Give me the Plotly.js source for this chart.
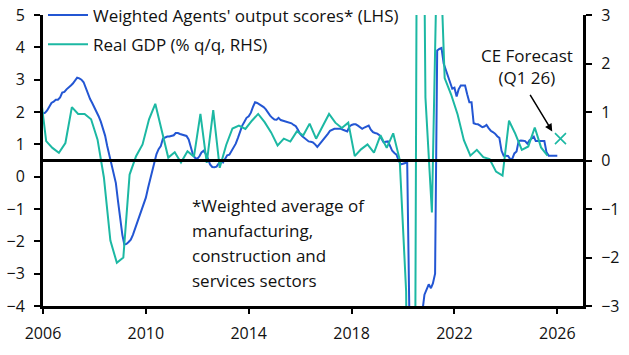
<!DOCTYPE html>
<html>
<head>
<meta charset="utf-8">
<script src="https://cdn.plot.ly/plotly-3.0.1.min.js"></script>
<style>html,body{margin:0;padding:0;background:#fff;}#chart{width:629px;height:355px;}</style>
</head>
<body>
<div id="chart"></div>
<script>
// Weighted Agents' output scores (LHS), monthly from Jan 2006
const agentsStart = [2006, 1];
const agentsValues = [
  1.95,1.98,2.05,2.17,2.28,2.32,2.38,2.38,2.45,2.6,2.62,2.7,
  2.75,2.82,2.88,2.98,3.06,3.04,3.0,2.92,2.75,2.55,2.4,2.28,
  2.15,2.0,1.87,1.7,1.5,1.27,0.95,0.65,0.4,0.1,-0.2,-0.75,
  -1.3,-1.8,-2.1,-2.08,-2.02,-1.95,-1.8,-1.6,-1.4,-1.2,-1.0,-0.85,
  -0.65,-0.35,-0.1,0.15,0.45,0.7,0.85,0.95,1.18,1.22,1.24,1.24,
  1.25,1.28,1.35,1.35,1.32,1.3,1.28,1.26,1.15,0.9,0.68,0.58,
  0.55,0.63,0.75,0.8,0.7,0.55,0.38,0.3,0.29,0.31,0.42,0.5,
  0.44,0.58,0.66,0.68,0.78,0.9,1.02,1.2,1.42,1.58,1.7,1.82,
  1.87,1.98,2.15,2.3,2.28,2.24,2.2,2.15,2.08,1.98,1.89,1.82,
  1.77,1.76,1.82,1.75,1.73,1.71,1.7,1.67,1.65,1.6,1.56,1.45,
  1.32,1.25,1.2,1.12,1.09,1.08,1.06,1.0,0.92,1.0,1.08,1.15,
  1.25,1.33,1.42,1.45,1.48,1.48,1.48,1.48,1.45,1.42,1.4,1.55,
  1.6,1.62,1.62,1.58,1.52,1.48,1.52,1.56,1.58,1.45,1.38,1.35,
  1.33,1.28,1.15,1.06,1.08,1.09,0.95,0.8,0.73,0.68,0.5,0.38,
  0.4,0.42,0.44,-4.3,-5.0,-5.0,-5.0,-4.9,-4.6,-4.2,-3.65,-3.5,
  -3.33,-3.45,-3.3,-3.0,3.9,3.95,3.98,3.5,3.3,3.05,2.85,2.72,
  2.75,2.48,2.7,2.82,2.82,2.82,2.55,2.3,2.3,1.65,1.63,1.62,
  1.58,1.53,1.55,1.6,1.5,1.42,1.38,1.33,1.25,1.2,0.8,0.65,
  0.65,0.64,0.55,0.55,0.72,0.78,1.1,1.12,1.11,1.1,1.02,1.12,
  1.18,1.24,1.1,1.1,1.1,1.1,1.1,0.75,0.65,0.65,0.65,0.65,
  0.65
];

// Real GDP (% q/q, RHS), quarterly from Q4 2005
const gdpStart = [2005, 4];
const gdpValues = [
  1.5,
  0.40,0.26,0.16,0.36,
  1.10,0.96,0.96,0.85,
  0.43,-0.35,-1.65,-2.11,
  -2.0,-0.29,0.09,0.33,
  0.85,1.17,0.62,0.06,
  0.17,-0.04,0.19,0.08,
  0.96,-0.05,1.04,-0.15,
  0.32,0.66,0.72,0.65,
  0.82,0.96,0.79,0.58,
  0.31,0.45,0.39,0.60,
  0.52,0.76,0.45,0.70,
  0.96,0.78,0.67,0.78,
  0.09,0.23,0.33,0.16,
  0.52,0.26,0.56,0.02,
  -2.7,-19.4,16.9,1.3,
  -1.07,5.5,1.7,1.36,
  0.95,0.42,0.10,0.22,
  0.07,0.03,-0.23,-0.31,
  0.82,0.55,0.22,0.29,
  0.68,0.27,0.10
];

const forecastDates = ['2026-02-15'];
const forecastValues = [0.45];

const xTickVals = ['2006-01-01','2010-01-01','2014-01-01','2018-01-01','2022-01-01','2026-01-01'];
const xTickText = ['2006','2010','2014','2018','2022','2026'];

function pad(n){ return (n<10?'0':'')+n; }
const agentsDates = agentsValues.map((_, i) => {
  const m0 = (agentsStart[1]-1) + i;
  const y = agentsStart[0] + Math.floor(m0/12);
  return y + '-' + pad(m0%12+1) + '-01';
});
const gdpDates = gdpValues.map((_, i) => {
  const q0 = (gdpStart[1]-1) + i;
  const y = gdpStart[0] + Math.floor(q0/4);
  const mon = (q0%4)*3 + 2;
  return y + '-' + pad(mon) + '-15';
});

const BLUE = '#2356d3';
const TEAL = '#1cb8a3';
const FONT = 'Open Sans, Noto Sans, sans-serif';

const traces = [
  {x: agentsDates, y: agentsValues, type:'scatter', mode:'lines', name:"Weighted Agents' output scores* (LHS)",
   line:{color:BLUE, width:2}, yaxis:'y', legendgroup:'a'},
  {x: gdpDates, y: gdpValues, type:'scatter', mode:'lines', name:'Real GDP (% q/q, RHS)',
   line:{color:TEAL, width:2}, yaxis:'y2', legendgroup:'b'},
  {x: forecastDates, y: forecastValues, type:'scatter', mode:'markers', showlegend:false,
   marker:{symbol:'x-thin-open', size:11, color:TEAL, line:{color:TEAL, width:1.6}}, yaxis:'y2'}
];

const foot = ['*Weighted average of','manufacturing,','construction and','services sectors'];
const footY = [0.345, 0.259, 0.173, 0.087];
const annotations = foot.map((t,i)=>({xref:'paper', yref:'paper', x:0.272, y:footY[i], text:t, showarrow:false,
  xanchor:'left', yanchor:'middle', font:{family:FONT, size:17, color:'#111'}}));
annotations.push({xref:'x', yref:'y2', x:'2024-10-30', y:1.94, text:'CE Forecast<br>(Q1 26)', showarrow:false,
  xanchor:'center', yanchor:'middle', font:{family:FONT, size:17, color:'#111'}});
annotations.push({xref:'x', yref:'y2', x:'2025-10-21', y:0.6, text:'', showarrow:true, ax:-23, ay:-38,
  arrowhead:2, arrowsize:1, arrowwidth:1.5, arrowcolor:'#000'});

const layout = {
  width:629, height:355,
  margin:{l:43, r:46, t:15, b:49, autoexpand:false},
  paper_bgcolor:'#fff', plot_bgcolor:'#fff',
  font:{family:FONT, size:16, color:'#111'},
  showlegend:true,
  legend:{x:0.0, y:1.06, xanchor:'left', yanchor:'top', bgcolor:'rgba(0,0,0,0)', font:{family:FONT, size:17, color:'#111'},
    traceorder:'grouped', tracegroupgap:4, itemwidth:40},
  xaxis:{type:'date', range:['2006-01-01','2027-01-01'], tickvals:xTickVals, ticktext:xTickText,
    showgrid:false, zeroline:false, showline:true, linecolor:'#000', linewidth:3, ticks:'outside', ticklen:5, tickwidth:2, tickcolor:'#000',
    tickfont:{family:FONT, size:16}, ticklabelstandoff:6},
  yaxis:{range:[-4,5], dtick:1, showgrid:false, zeroline:false, showline:true, linecolor:'#000', linewidth:3,
    ticks:'outside', ticklen:6, tickwidth:2, tickcolor:'#000', tickfont:{family:FONT, size:16}, ticklabelstandoff:6},
  yaxis2:{range:[-3,3], dtick:1, overlaying:'y', side:'right', showgrid:false, zeroline:false, showline:true, linecolor:'#000', linewidth:3,
    ticks:'outside', ticklen:6, tickwidth:2, tickcolor:'#000', tickfont:{family:FONT, size:16}, ticklabelstandoff:6},
  shapes:[{type:'line', xref:'paper', yref:'y2', x0:0, x1:1, y0:0, y1:0, line:{color:'#000', width:3}, layer:'above'}],
  annotations: annotations
};

Plotly.newPlot('chart', traces, layout, {staticPlot:true, displayModeBar:false});
</script>
</body>
</html>
